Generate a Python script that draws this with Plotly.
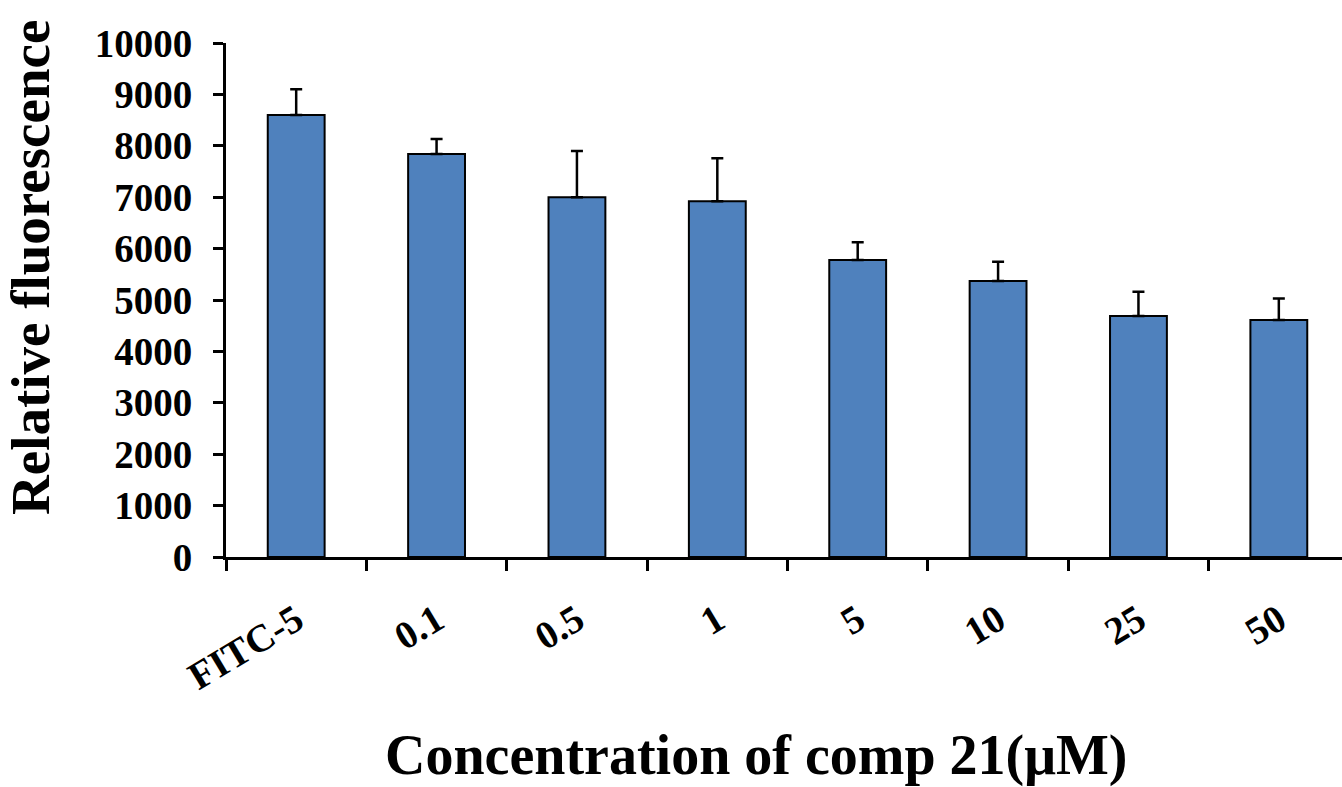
import plotly.graph_objects as go

categories = ["FITC-5", "0.1", "0.5", "1", "5", "10", "25", "50"]
fluorescence = [8600, 7840, 7000, 6920, 5780, 5370, 4690, 4610]
error_plus = [500, 290, 900, 840, 345, 375, 470, 420]
y_ticks = [0, 1000, 2000, 3000, 4000, 5000, 6000, 7000, 8000, 9000, 10000]
y_tick_labels = [str(v) for v in y_ticks]

FONT = "Liberation Serif"
W, H = 1342, 787
ML, MR, MT, MB = 226, 0, 43, 230
PW = W - ML - MR
PH = H - MT - MB

fig = go.Figure()
fig.add_trace(go.Bar(
    x=categories,
    y=fluorescence,
    width=0.405,
    marker=dict(color="#4F81BD", line=dict(color="black", width=2)),
    error_y=dict(type="data", symmetric=False, array=error_plus,
                 arrayminus=[0] * len(error_plus),
                 color="black", thickness=2.5, width=6),
    showlegend=False,
    hoverinfo="skip",
))

fig.update_layout(
    width=W, height=H,
    margin=dict(l=ML, r=MR, t=MT, b=MB),
    paper_bgcolor="white", plot_bgcolor="white",
    font=dict(family=FONT, color="black"),
    xaxis=dict(
        type="category",
        range=[-0.5, len(categories) - 0.55],
        showline=True, linecolor="black", linewidth=3,
        ticks="outside", tickson="boundaries", ticklen=11, tickwidth=3, tickcolor="black",
        tickangle=-31,
        tickfont=dict(family=FONT, size=39, color="black", weight="bold"),
        ticklabelstandoff=22,
        showgrid=False, zeroline=False, automargin=False,
    ),
    yaxis=dict(
        range=[0, 10000],
        tickvals=y_ticks, ticktext=y_tick_labels,
        showline=True, linecolor="black", linewidth=3,
        ticks="outside", ticklen=10, tickwidth=3, tickcolor="black",
        tickfont=dict(family=FONT, size=39, color="black", weight="bold"),
        ticklabelstandoff=13,
        showgrid=False, zeroline=False, automargin=False,
    ),
    annotations=[
        dict(text="<b>Relative fluorescence</b>", textangle=-90,
             xref="paper", yref="paper",
             x=(30 - ML) / PW, y=(H - MB - 268) / PH,
             xanchor="center", yanchor="middle", showarrow=False,
             font=dict(family=FONT, size=55, color="black")),
        dict(text="<b>Concentration of comp 21(μM)</b>",
             xref="paper", yref="paper",
             x=(756 - ML) / PW, y=(H - MB - 755) / PH,
             xanchor="center", yanchor="middle", showarrow=False,
             font=dict(family=FONT, size=56, color="black")),
    ],
)

fig.write_html("out.html",
               config={"displayModeBar": False},
               post_script="document.body.style.margin='0';document.body.style.padding='0';")
